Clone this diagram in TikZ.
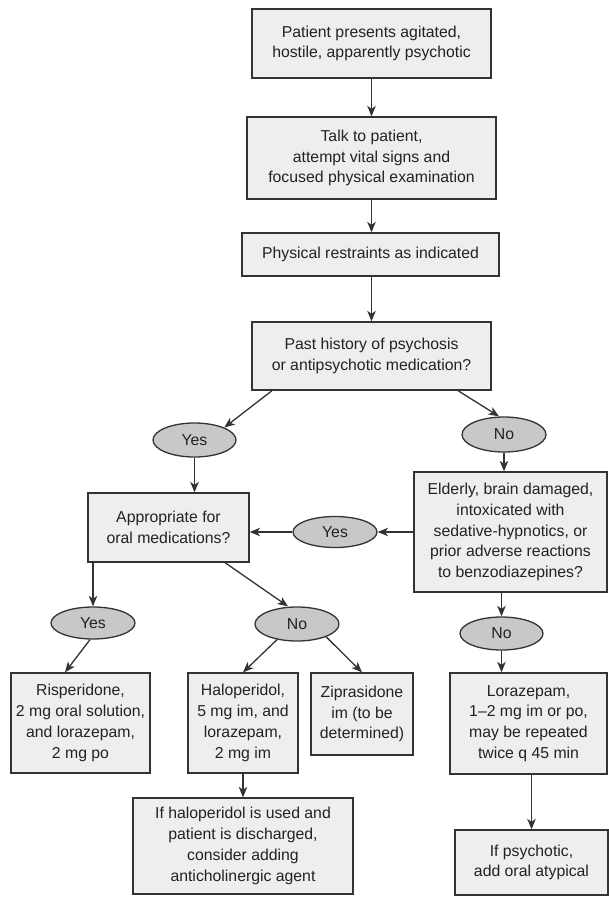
\documentclass[tikz,border=0pt]{standalone}
\usepackage{fontspec}
\setmainfont{Liberation Sans}
\usetikzlibrary{shapes.geometric,arrows.meta}
\definecolor{boxfill}{HTML}{EEEEEE}
\definecolor{ellfill}{HTML}{C8C8C8}
\definecolor{linec}{HTML}{333333}
\definecolor{textc}{HTML}{222222}
\begin{document}
\begin{tikzpicture}[x=1pt,y=-1pt,
  every node/.style={font=\fontsize{15.8}{20.8}\selectfont, text=textc},
  flowbox/.style={draw=linec, line width=1.3pt, fill=boxfill, rectangle, inner sep=0pt, align=center},
  answer/.style={draw=linec, line width=1.3pt, fill=ellfill, ellipse, inner sep=0pt},
  arr/.style={draw=linec, line width=1.3pt, -{Stealth[length=10.5pt,width=8.5pt,inset=3pt]}}
]
\useasboundingbox (0,0) rectangle (608,897);

\node[flowbox, minimum width=239pt, minimum height=69pt] (b1) at (371.5,43.5) {Patient presents agitated,\\hostile, apparently psychotic};
\node[flowbox, minimum width=249pt, minimum height=82pt] (b2) at (371.5,158) {Talk to patient,\\attempt vital signs and\\focused physical examination};
\node[flowbox, minimum width=257pt, minimum height=43pt] (b3) at (370.5,254.5) {Physical restraints as indicated};
\node[flowbox, minimum width=239pt, minimum height=68pt] (b4) at (371.5,356) {Past history of psychosis\\or antipsychotic medication?};

\node[answer, minimum width=83pt, minimum height=34pt] (yes1) at (194.5,440) {Yes};
\node[answer, minimum width=84pt, minimum height=35pt] (no1) at (504,434.5) {No};

\node[flowbox, minimum width=161pt, minimum height=69pt] (appr) at (168.5,527.5) {Appropriate for\\oral medications?};
\node[flowbox, minimum width=193pt, minimum height=120pt] (eld) at (510.5,532) {Elderly, brain damaged,\\intoxicated with\\sedative-hypnotics, or\\prior adverse reactions\\to benzodiazepines?};

\node[answer, minimum width=84pt, minimum height=31pt] (yes2) at (335,532) {Yes};
\node[answer, minimum width=83pt, minimum height=33pt] (no2) at (501.5,633.5) {No};
\node[answer, minimum width=84pt, minimum height=32pt] (yes3) at (93,623) {Yes};
\node[answer, minimum width=84pt, minimum height=34pt] (no3) at (297,624) {No};

\node[flowbox, minimum width=139pt, minimum height=100pt] (risp) at (80.5,723) {Risperidone,\\2 mg oral solution,\\and lorazepam,\\2 mg po};
\node[flowbox, minimum width=110pt, minimum height=100pt] (halo) at (243,723) {Haloperidol,\\5 mg im, and\\lorazepam,\\2 mg im};
\node[flowbox, minimum width=102pt, minimum height=82pt] (zip) at (362,714) {Ziprasidone\\im (to be\\determined)};
\node[flowbox, minimum width=220pt, minimum height=96pt] (ifhalo) at (243,846) {If haloperidol is used and\\patient is discharged,\\consider adding\\anticholinergic agent};
\node[flowbox, minimum width=157pt, minimum height=101pt] (loraz) at (528.5,723.5) {Lorazepam,\\1--2 mg im or po,\\may be repeated\\twice q 45 min};
\node[flowbox, minimum width=153pt, minimum height=65pt] (ifpsy) at (531.5,862.5) {If psychotic,\\add oral atypical};

\draw[arr] (b1) -- (b2);
\draw[arr] (b2) -- (b2.south |- b3.north);
\draw[arr] (b2.south |- b3.south) -- (b2.south |- b4.north);
\draw[arr] ([xshift=-99.5pt]b4.south) -- (yes1.north east);
\draw[arr] ([xshift=86.5pt]b4.south) -- ([xshift=-5pt]no1.north);
\draw[arr] (yes1.south) -- (yes1.south |- appr.north);
\draw[arr] (no1.south) -- (no1.south |- eld.north);
\draw[arr] (eld.west) -- (yes2.east);
\draw[arr] (yes2.west) -- (appr.east |- yes2.west);
\draw[arr] (no2.north |- eld.south) -- (no2.north);
\draw[arr] (yes3.north |- appr.south) -- (yes3.north);
\draw[arr] ([xshift=56.5pt]appr.south) -- ([xshift=-9pt]no3.north);
\draw[arr] ([xshift=-3pt]yes3.south) -- ([xshift=-15.5pt]risp.north);
\draw[arr] ([xshift=-20pt,yshift=2pt]no3.south) -- (halo.north);
\draw[arr] ([xshift=29pt,yshift=5pt]no3.south) -- (zip.north);
\draw[arr] (halo) -- (ifhalo);
\draw[arr] (no2.south) -- (no2.south |- loraz.north);
\draw[arr] (ifpsy.north |- loraz.south) -- (ifpsy.north);
\end{tikzpicture}
\end{document}
